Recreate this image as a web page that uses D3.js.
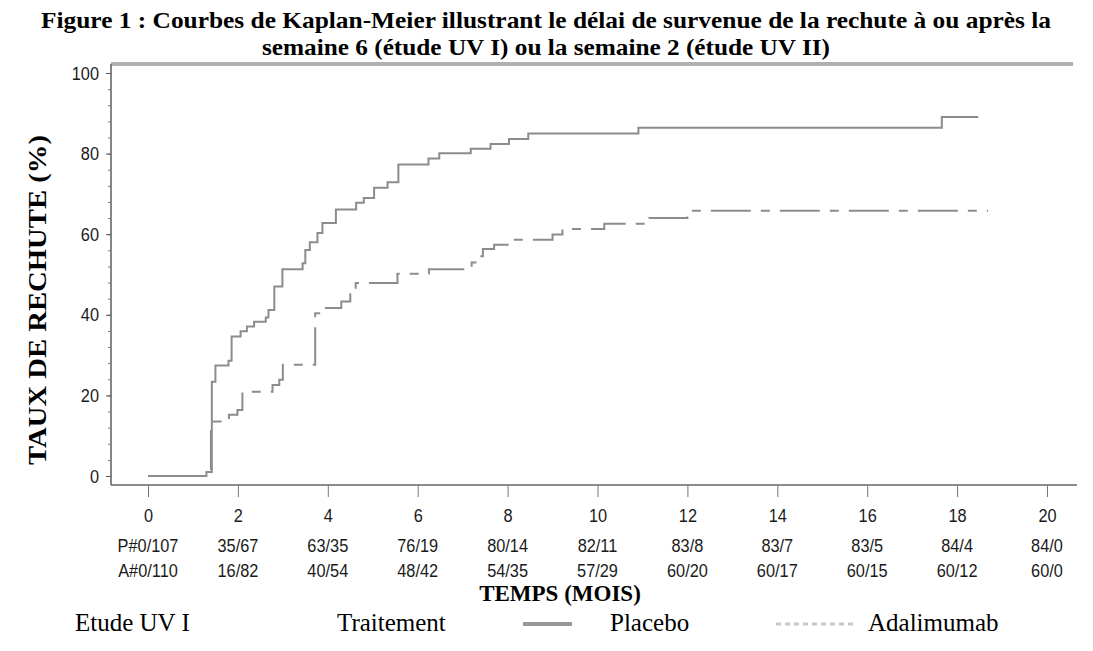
<!DOCTYPE html>
<html>
<head>
<meta charset="utf-8">
<script src="https://cdn.jsdelivr.net/npm/d3@7"></script>
<style>
  body { margin: 0; background: #fff; }
  svg { display: block; }
  .serif { font-family: "Liberation Serif", "Times New Roman", serif; fill: #000; }
  .tick text { font-family: "Liberation Sans", Arial, sans-serif; font-size: 19px; fill: #1a1a1a; }
  .risk { font-family: "Liberation Sans", Arial, sans-serif; font-size: 19px; fill: #1a1a1a; }
</style>
</head>
<body>
<svg id="chart" width="1093" height="651"></svg>
<script>
// Kaplan-Meier steps (months, % relapse)
var placeboTime = [0, 1.30, 1.42, 1.50, 1.79, 1.86, 2.06, 2.20, 2.36, 2.62, 2.68, 2.81, 2.99, 3.44, 3.50, 3.60, 3.77, 3.88, 4.18, 4.63, 4.80, 5.03, 5.33, 5.57, 6.24, 6.48, 7.18, 7.62, 8.03, 8.46, 10.91, 17.66, 18.47];
var placeboRate = [0, 1.0, 23.4, 27.4, 28.6, 34.6, 35.9, 37.1, 38.3, 39.3, 41.2, 47.0, 51.3, 52.8, 56.1, 58.0, 60.3, 62.8, 66.1, 67.8, 69.0, 71.5, 72.9, 77.3, 78.8, 80.1, 81.2, 82.4, 83.6, 85.0, 86.4, 89.1, 89.1];

var adaTime = [0, 1.40, 1.80, 1.99, 2.10, 2.77, 2.92, 3.00, 3.72, 3.92, 4.30, 4.50, 4.62, 5.55, 6.25, 7.20, 7.35, 7.45, 7.70, 8.07, 9.00, 9.22, 10.15, 11.15, 12.00, 18.69];
var adaRate = [0, 13.5, 15.2, 16.4, 20.9, 22.6, 23.9, 27.6, 40.4, 41.7, 43.3, 45.4, 47.9, 50.2, 51.3, 53.0, 54.5, 56.3, 57.4, 58.6, 59.9, 61.3, 62.6, 64.0, 65.8, 65.8];

var xTicks = [0, 2, 4, 6, 8, 10, 12, 14, 16, 18, 20];
var yTicks = [0, 20, 40, 60, 80, 100];
var placeboRisk = ["P#0/107", "35/67", "63/35", "76/19", "80/14", "82/11", "83/8", "83/7", "83/5", "84/4", "84/0"];
var adaRisk = ["A#0/110", "16/82", "40/54", "48/42", "54/35", "57/29", "60/20", "60/17", "60/15", "60/12", "60/0"];

var titleLines = ["Figure 1 : Courbes de Kaplan-Meier illustrant le délai de survenue de la rechute à ou après la",
                  "semaine 6 (étude UV I) ou la semaine 2 (étude UV II)"];
var titleWidths = [1010, 568];

var svg = d3.select("#chart");

var x = d3.scaleLinear().domain([0, 20]).range([148, 1047]);
var y = d3.scaleLinear().domain([0, 100]).range([476, 73]);

var plotLeft = 111, plotRight = 1077, plotTop = 64, plotBottom = 485;
var squeeze = 0.86; // the sans labels are narrow in the original

// title
svg.selectAll(".title")
   .data(titleLines)
   .enter()
   .append("text")
   .attr("class", "serif")
   .attr("x", 546)
   .attr("y", function(d, i){ return 28 + i * 27; })
   .attr("text-anchor", "middle")
   .attr("textLength", function(d, i){ return titleWidths[i]; })
   .attr("lengthAdjust", "spacingAndGlyphs")
   .style("font-size", "24px")
   .style("font-weight", "bold")
   .text(function(d){ return d; });

// frame
svg.append("line")
   .attr("x1", plotLeft).attr("x2", 1073).attr("y1", plotTop).attr("y2", plotTop)
   .attr("stroke", "#b0b0b0").attr("stroke-width", 4);
svg.append("line")
   .attr("x1", plotLeft).attr("x2", plotLeft).attr("y1", plotTop).attr("y2", plotBottom)
   .attr("stroke", "#666").attr("stroke-width", 1.6);
svg.append("line")
   .attr("x1", plotLeft).attr("x2", plotRight).attr("y1", plotBottom).attr("y2", plotBottom)
   .attr("stroke", "#666").attr("stroke-width", 1.6);

// y axis: minor ticks every 4, labels every 20
var yMinor = svg.append("g")
   .attr("transform", "translate(" + plotLeft + ",0)")
   .call(d3.axisLeft(y).tickValues(d3.range(0, 101, 4)).tickSize(3).tickFormat(""));
yMinor.select(".domain").remove();
yMinor.selectAll("line").attr("stroke", "#777");

var yAxis = svg.append("g")
   .attr("transform", "translate(" + plotLeft + ",0)")
   .call(d3.axisLeft(y).tickValues(yTicks).tickSize(5).tickPadding(9));
yAxis.select(".domain").remove();
yAxis.selectAll("line").attr("stroke", "#555");
yAxis.selectAll("text")
   .attr("font-size", null)
   .attr("transform", "scale(" + squeeze + ",1)");

// x axis
var xAxis = svg.append("g")
   .attr("transform", "translate(0," + plotBottom + ")")
   .call(d3.axisBottom(x).tickValues(xTicks).tickSize(12).tickPadding(12));
xAxis.select(".domain").remove();
xAxis.selectAll("line").attr("stroke", "#777");
xAxis.selectAll("text")
   .attr("font-size", null)
   .attr("transform", "scale(" + squeeze + ",1)");

// numbers at risk
function riskRow(values, yPos){
   svg.selectAll(null)
      .data(values)
      .enter()
      .append("text")
      .attr("class", "risk")
      .attr("transform", function(d, i){
         return "translate(" + x(xTicks[i]) + "," + yPos + ") scale(" + squeeze + ",1)";
      })
      .attr("text-anchor", "middle")
      .text(function(d){ return d; });
}
riskRow(placeboRisk, 552);
riskRow(adaRisk, 577);

// axis titles
svg.append("text")
   .attr("class", "serif")
   .attr("x", 560).attr("y", 601)
   .attr("text-anchor", "middle")
   .style("font-size", "23px").style("font-weight", "bold")
   .text("TEMPS (MOIS)");
svg.append("text")
   .attr("class", "serif")
   .attr("transform", "translate(46,300) rotate(-90)")
   .attr("text-anchor", "middle")
   .attr("textLength", 330)
   .attr("lengthAdjust", "spacingAndGlyphs")
   .style("font-size", "25px").style("font-weight", "bold")
   .text("TAUX DE RECHUTE (%)");

// curves
var line = d3.line()
   .x(function(d){ return x(d[0]); })
   .y(function(d){ return y(d[1]); })
   .curve(d3.curveStepAfter);

svg.append("path")
   .datum(d3.zip(adaTime, adaRate))
   .attr("d", line)
   .attr("fill", "none")
   .attr("stroke", "#8c8c8c")
   .attr("stroke-width", 2)
   .attr("stroke-dasharray", "40,10,9,10");

svg.append("path")
   .datum(d3.zip(placeboTime, placeboRate))
   .attr("d", line)
   .attr("fill", "none")
   .attr("stroke", "#8c8c8c")
   .attr("stroke-width", 2);

// legend
var legendY = 631;
svg.append("text").attr("class", "serif").attr("x", 75).attr("y", legendY)
   .style("font-size", "25px").text("Etude UV I");
svg.append("text").attr("class", "serif").attr("x", 337).attr("y", legendY)
   .style("font-size", "25px").text("Traitement");
svg.append("line").attr("x1", 523).attr("x2", 572).attr("y1", 624).attr("y2", 624)
   .attr("stroke", "#9a9a9a").attr("stroke-width", 4);
svg.append("text").attr("class", "serif").attr("x", 610).attr("y", legendY)
   .style("font-size", "25px").text("Placebo");
svg.append("line").attr("x1", 776).attr("x2", 856).attr("y1", 624).attr("y2", 624)
   .attr("stroke", "#c8c8c8").attr("stroke-width", 3).attr("stroke-dasharray", "5,4");
svg.append("text").attr("class", "serif").attr("x", 868).attr("y", legendY)
   .style("font-size", "25px").text("Adalimumab");
</script>
</body>
</html>
